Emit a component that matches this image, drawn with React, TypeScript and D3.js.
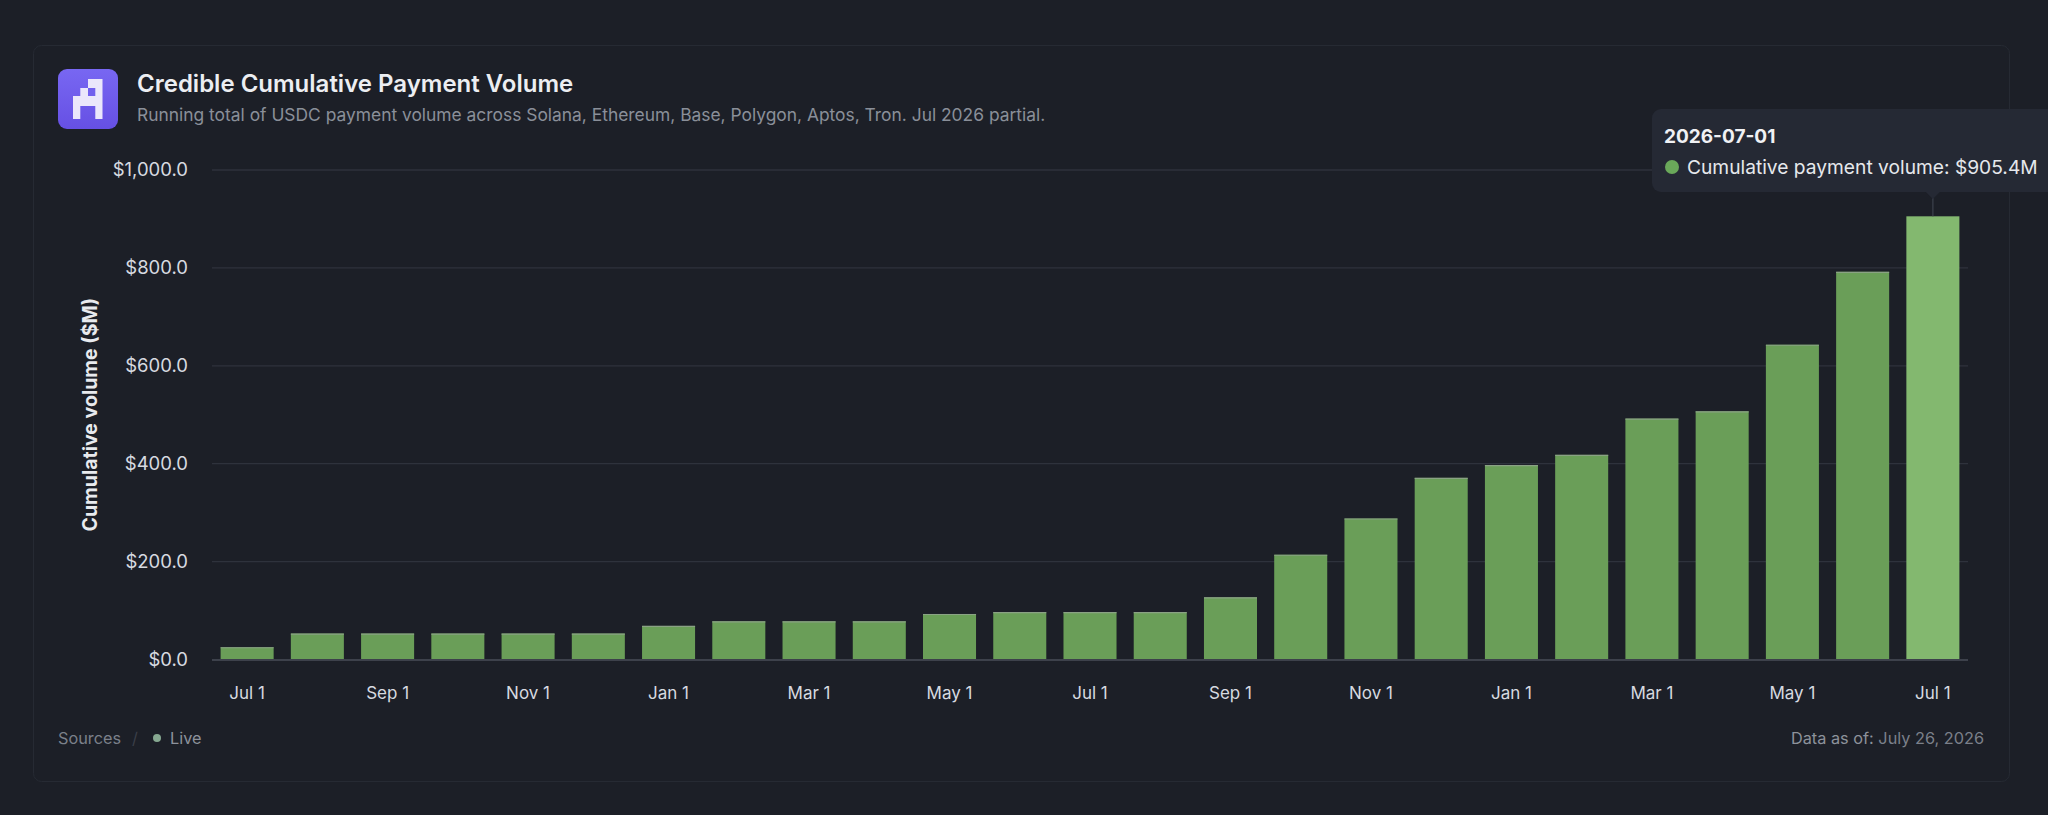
import { useRef, useEffect } from 'react';
import * as d3 from 'd3';

// monthly cumulative USDC payment volume, $M
const months = [
  '2024-07-01', '2024-08-01', '2024-09-01', '2024-10-01', '2024-11-01', '2024-12-01',
  '2025-01-01', '2025-02-01', '2025-03-01', '2025-04-01', '2025-05-01', '2025-06-01',
  '2025-07-01', '2025-08-01', '2025-09-01', '2025-10-01', '2025-11-01', '2025-12-01',
  '2026-01-01', '2026-02-01', '2026-03-01', '2026-04-01', '2026-05-01', '2026-06-01',
  '2026-07-01',
];
const volumes = [
  25, 53, 53, 53, 53, 53,
  68.5, 78, 78, 78, 93, 96.6,
  96.6, 96.6, 127, 214, 288, 371,
  397, 418, 492, 507, 643, 792,
  905.4,
];
const yTicks = [0, 200, 400, 600, 800, 1000];
const hoveredMonth = '2026-07-01';

const title = 'Credible Cumulative Payment Volume';
const subtitle = 'Running total of USDC payment volume across Solana, Ethereum, Base, Polygon, Aptos, Tron. Jul 2026 partial.';
const yTitle = 'Cumulative volume ($M)';
const seriesName = 'Cumulative payment volume';
const dataAsOf = 'July 26, 2026';

const BG = '#1c1f27';
const FONT = 'Inter, "Noto Sans", sans-serif';

export default function App() {
  const svgRef = useRef<SVGSVGElement>(null);

  useEffect(() => {
    if (!svgRef.current) return;
    const svg = d3.select(svgRef.current);
    svg.selectAll('*').remove();

    const width = 2048;
    const height = 815;
    const plot = { left: 212, right: 1968, top: 170, bottom: 659.5 };

    svg.attr('viewBox', `0 0 ${width} ${height}`).style('font-family', FONT);

    svg.append('rect').attr('width', width).attr('height', height).attr('fill', BG);

    // card
    svg.append('rect')
      .attr('x', 33.5).attr('y', 45.5).attr('width', 1976).attr('height', 736)
      .attr('rx', 8).attr('fill', '#1c1f27').attr('stroke', '#262a33');

    // logo
    const defs = svg.append('defs');
    const grad = defs.append('linearGradient').attr('id', 'logoGrad')
      .attr('x1', 0).attr('y1', 0).attr('x2', 0).attr('y2', 1);
    grad.append('stop').attr('offset', '0%').attr('stop-color', '#7867f2');
    grad.append('stop').attr('offset', '100%').attr('stop-color', '#6650e4');

    const logo = svg.append('g').attr('transform', 'translate(58,69)');
    logo.append('rect').attr('width', 60).attr('height', 60).attr('rx', 9).attr('fill', 'url(#logoGrad)');
    const glyph = 'M30,10 H44.5 V50 H37.3 V37 H22.3 V50 H15 V27 H22.3 V19 H30 Z';
    logo.append('path').attr('d', glyph).attr('fill', '#ebe7fb');
    logo.append('rect').attr('x', 30).attr('y', 19).attr('width', 7.3).attr('height', 8).attr('fill', '#7260ee');

    // header
    svg.append('text')
      .attr('x', 137).attr('y', 92)
      .attr('fill', '#eceef2').style('font-size', '24px').style('font-weight', 600)
      .text(title);
    svg.append('text')
      .attr('x', 137).attr('y', 121)
      .attr('fill', '#8a8f99').style('font-size', '17.4px')
      .text(subtitle);

    const x = d3.scaleBand<string>()
      .domain(months)
      .range([plot.left, plot.right])
      .paddingInner(0.245)
      .paddingOuter(0.1225);

    const y = d3.scaleLinear()
      .domain([0, 1000])
      .range([plot.bottom, plot.top]);

    // grid
    const grid = svg.append('g');
    grid.selectAll('line').data(yTicks.filter((t) => t > 0)).join('line')
      .attr('x1', plot.left).attr('x2', plot.right)
      .attr('y1', (d) => y(d)).attr('y2', (d) => y(d))
      .attr('stroke', '#2e323c').attr('stroke-width', 1.3);

    // y labels
    svg.append('g').selectAll('text').data(yTicks).join('text')
      .attr('x', 188).attr('y', (d) => y(d))
      .attr('dy', '0.35em').attr('text-anchor', 'end')
      .attr('fill', '#d7dae0').style('font-size', '18.5px')
      .text((d) => `$${d3.format(',.1f')(d)}`);

    svg.append('text')
      .attr('transform', `translate(97, ${(plot.top + plot.bottom) / 2}) rotate(-90)`)
      .attr('text-anchor', 'middle')
      .attr('fill', '#e8eaee').style('font-size', '19.5px').style('font-weight', 700)
      .text(yTitle);

    // bars
    const bars = svg.append('g');
    bars.selectAll('rect').data(months).join('rect')
      .attr('x', (d) => x(d)!)
      .attr('y', (_, i) => y(volumes[i]))
      .attr('width', x.bandwidth())
      .attr('height', (_, i) => y(0) - y(volumes[i]))
      .attr('fill', (d) => (d === hoveredMonth ? '#83b86f' : '#6a9e58'));
    bars.selectAll('line').data(months.filter((d) => d !== hoveredMonth)).join('line')
      .attr('x1', (d) => x(d)!).attr('x2', (d) => x(d)! + x.bandwidth())
      .attr('y1', (d) => y(volumes[months.indexOf(d)]) + 0.5)
      .attr('y2', (d) => y(volumes[months.indexOf(d)]) + 0.5)
      .attr('stroke', '#8aa284').attr('stroke-width', 1.2);

    // baseline
    svg.append('line')
      .attr('x1', plot.left).attr('x2', plot.right)
      .attr('y1', plot.bottom + 0.5).attr('y2', plot.bottom + 0.5)
      .attr('stroke', '#3d414b').attr('stroke-width', 2);

    // x labels every other month
    const fmt = d3.timeFormat('%b %-d');
    const parse = d3.utcParse('%Y-%m-%d');
    svg.append('g').selectAll('text').data(months.filter((_, i) => i % 2 === 0)).join('text')
      .attr('x', (d) => x(d)! + x.bandwidth() / 2)
      .attr('y', 693).attr('dy', '0.35em').attr('text-anchor', 'middle')
      .attr('fill', '#d7dae0').style('font-size', '17px')
      .text((d) => {
        const dt = parse(d)!;
        return fmt(new Date(dt.getUTCFullYear(), dt.getUTCMonth(), dt.getUTCDate()));
      });

    // tooltip
    const hi = months.indexOf(hoveredMonth);
    const cx = x(hoveredMonth)! + x.bandwidth() / 2;
    const tip = svg.append('g');
    tip.append('line')
      .attr('x1', cx).attr('x2', cx).attr('y1', 196).attr('y2', y(volumes[hi]))
      .attr('stroke', '#3a3f4a').attr('stroke-width', 1.3);
    tip.append('rect')
      .attr('x', 1652).attr('y', 109).attr('width', 410).attr('height', 83)
      .attr('rx', 9).attr('fill', '#252934');
    tip.append('path')
      .attr('d', `M${cx - 7},192 L${cx},199 L${cx + 7},192 Z`)
      .attr('fill', '#252934');
    tip.append('text')
      .attr('x', 1664).attr('y', 143)
      .attr('fill', '#f0f1f4').style('font-size', '19px').style('font-weight', 700)
      .text(hoveredMonth);
    tip.append('circle').attr('cx', 1672).attr('cy', 167).attr('r', 7).attr('fill', '#6aa85a');
    tip.append('text')
      .attr('x', 1687).attr('y', 173.5)
      .attr('fill', '#e6e8ec').style('font-size', '19.2px')
      .text(`${seriesName}: $${d3.format('.1f')(volumes[hi])}M`);

    // footer
    const foot = svg.append('g').style('font-size', '16.3px');
    foot.append('text').attr('x', 58).attr('y', 738).attr('dy', '0.35em')
      .attr('fill', '#7b808a').text('Sources');
    foot.append('text').attr('x', 132).attr('y', 738).attr('dy', '0.35em')
      .attr('fill', '#3a3e47').text('/');
    foot.append('circle').attr('cx', 157).attr('cy', 738).attr('r', 4).attr('fill', '#86a891');
    foot.append('text').attr('x', 170).attr('y', 738).attr('dy', '0.35em')
      .attr('fill', '#8d929b').text('Live');
    const asOf = foot.append('text').attr('x', 1984).attr('y', 738).attr('dy', '0.35em')
      .attr('text-anchor', 'end');
    asOf.append('tspan').attr('fill', '#8d929b').text('Data as of: ');
    asOf.append('tspan').attr('fill', '#7b808a').text(dataAsOf);
  }, []);

  return (
    <div style={{ position: 'fixed', left: 0, top: 0, width: 2048, height: 815, background: BG, overflow: 'hidden' }}>
      <svg ref={svgRef} width={2048} height={815} style={{ display: 'block' }} />
    </div>
  );
}
